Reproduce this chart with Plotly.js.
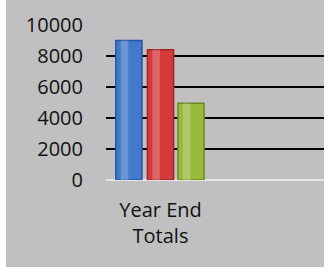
<!DOCTYPE html>
<html>
<head>
<meta charset="utf-8">
<script src="https://cdn.plot.ly/plotly-3.0.1.min.js"></script>
<style>
  html, body { margin: 0; padding: 0; background: #ffffff; width: 328px; height: 275px; overflow: hidden; }
  #chart { position: absolute; left: 6px; top: 0px; width: 318px; height: 267px; }
</style>
</head>
<body>
<div id="chart"></div>
<script>
const categories = ["Year End<br>Totals"];
const seriesNames = ["Series 1", "Series 2", "Series 3"];
const series1 = [9000];
const series2 = [8400];
const series3 = [4950];
const yTicks = [0, 2000, 4000, 6000, 8000, 10000];

const allSeries = [series1, series2, series3];
const colors = ["#4279c9", "#d33b3b", "#98ba3a"];
const edgeColors = ["#2a55a0", "#a32424", "#6c8a22"];
const offsets = [-0.41, -0.12, 0.16];
const barWidth = 0.24;

const traces = [];
allSeries.forEach((vals, i) => {
  traces.push({
    type: "bar", name: seriesNames[i], x: categories, y: vals,
    offset: offsets[i], width: barWidth,
    marker: { color: colors[i], line: { color: edgeColors[i], width: 1.5 } },
    hoverinfo: "skip", showlegend: false
  });
  traces.push({
    type: "bar", name: seriesNames[i] + " hl", x: categories, y: vals,
    offset: offsets[i] + 0.045, width: 0.07,
    marker: { color: "rgba(255,255,255,0.22)", line: { width: 0 } },
    hoverinfo: "skip", showlegend: false
  });
});

const layout = {
  width: 318, height: 267,
  paper_bgcolor: "#c0c0c0", plot_bgcolor: "#c0c0c0",
  margin: { l: 100, r: 0, t: 25, b: 87 },
  barmode: "overlay",
  font: { family: "Open Sans, Liberation Sans, sans-serif", size: 20, color: "#111111" },
  xaxis: {
    type: "category", range: [-0.5, 1.5],
    showgrid: false, zeroline: false, showline: false, ticks: "",
    ticklabelstandoff: 16,
    tickfont: { size: 20, color: "#111111" }
  },
  yaxis: {
    range: [0, 10000], tickvals: yTicks, ticktext: yTicks.map(String),
    showgrid: true, gridcolor: "#000000", gridwidth: 2,
    zeroline: true, zerolinecolor: "#e6e6e6", zerolinewidth: 2,
    showline: false, ticks: "", ticklabelstandoff: 22,
    tickfont: { size: 20, color: "#111111" }
  }
};

Plotly.newPlot("chart", traces, layout, { staticPlot: true, displayModeBar: false });
</script>
</body>
</html>
